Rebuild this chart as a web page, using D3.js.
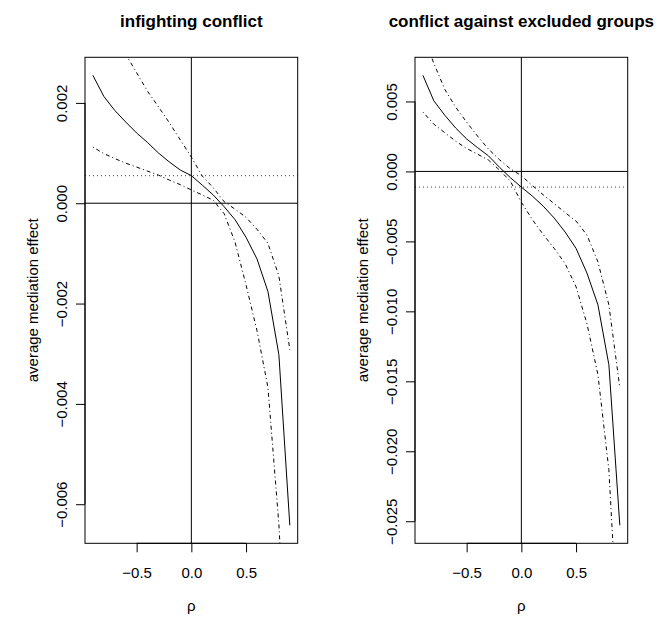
<!DOCTYPE html>
<html>
<head>
<meta charset="utf-8">
<script src="https://cdnjs.cloudflare.com/ajax/libs/d3/7.8.5/d3.min.js"></script>
<style>
  body { margin: 0; background: #fff; }
  svg { display: block; font-family: "Liberation Sans", Arial, Helvetica, sans-serif; }
</style>
</head>
<body>
<svg width="667" height="622"></svg>
<script>
// sensitivity parameter
var rho = [-0.9, -0.8, -0.7, -0.6, -0.5, -0.4, -0.3, -0.2, -0.1, 0,
           0.1, 0.2, 0.3, 0.4, 0.5, 0.6, 0.7, 0.8, 0.9];

// infighting conflict
var infightEst   = [0.00255, 0.00213, 0.00185, 0.00162, 0.00140, 0.00121, 0.00100, 0.00082, 0.00066, 0.00055,
                    0.00036, 0.000165, -0.00007, -0.00033, -0.00068, -0.00111, -0.00176, -0.00302, -0.00642];
var infightUpper = [0.0047, 0.00395, 0.0034, 0.00297, 0.0026, 0.00223, 0.00192, 0.0016, 0.00126, 0.00092,
                    0.00054, 0.00031, 0.00003, -0.00012, -0.00028, -0.00052, -0.0008, -0.00145, -0.00292];
var infightLower = [0.00112, 0.00099, 0.00089, 0.0008, 0.00072, 0.00064, 0.00056, 0.00046, 0.00037, 0.000265,
                    0.000165, 0.00006, -0.00021, -0.00078, -0.00163, -0.00254, -0.00367, -0.0064, -0.0105];
var infightAcme = 0.000549;

// conflict against excluded groups
var exclEst   = [0.00687, 0.00505, 0.00402, 0.0031, 0.00232, 0.0017, 0.00111, 0.0003, -0.00045, -0.00112,
                 -0.00176, -0.00248, -0.00333, -0.00433, -0.0055, -0.00727, -0.00954, -0.01382, -0.02529];
var exclUpper = [0.0098, 0.00773, 0.00587, 0.00459, 0.00352, 0.00252, 0.00159, 0.00084, 0.00018, -0.0003,
                 -0.00101, -0.00167, -0.0023, -0.00294, -0.00355, -0.00455, -0.00647, -0.00954, -0.01546];
var exclLower = [0.00425, 0.00338, 0.00277, 0.00216, 0.00164, 0.00123, 0.00081, 0.0001, -0.0007, -0.0022,
                 -0.00344, -0.00451, -0.0055, -0.00659, -0.00824, -0.0109, -0.01453, -0.02133, -0.0356];
var exclAcme = -0.00112;

// ticks
var xTicks = [-0.5, 0, 0.5];
var xTickLabels = ["\u22120.5", "0.0", "0.5"];
var infightTicks = [0.002, 0, -0.002, -0.004, -0.006];
var infightTickLabels = ["0.002", "0.000", "\u22120.002", "\u22120.004", "\u22120.006"];
var exclTicks = [0.005, 0, -0.005, -0.010, -0.015, -0.020, -0.025];
var exclTickLabels = ["0.005", "0.000", "\u22120.005", "\u22120.010", "\u22120.015", "\u22120.020", "\u22120.025"];

var titles = ["infighting conflict", "conflict against excluded groups"];

(function() {
  var svg = d3.select("svg");

  var panels = [
    {left: 85, right: 297.7, est: infightEst, upper: infightUpper, lower: infightLower, acme: infightAcme,
     ticks: infightTicks, labels: infightTickLabels, title: titles[0]},
    {left: 415, right: 627.7, est: exclEst, upper: exclUpper, lower: exclLower, acme: exclAcme,
     ticks: exclTicks, labels: exclTickLabels, title: titles[1]}
  ];
  var plotTop = 57.3, plotBottom = 543.3;

  // R style 4% padding
  function pad(ext) {
    var d = (ext[1] - ext[0]) * 0.04;
    return [ext[0] - d, ext[1] + d];
  }

  panels.forEach(function(p, i) {
    var x = d3.scaleLinear().domain(pad(d3.extent(rho))).range([p.left, p.right]),
        y = d3.scaleLinear().domain(pad(d3.extent(p.est))).range([plotBottom, plotTop]);

    var clipId = "clip" + i;
    svg.append("clipPath").attr("id", clipId)
      .append("rect")
      .attr("x", p.left).attr("y", plotTop)
      .attr("width", p.right - p.left).attr("height", plotBottom - plotTop);

    var g = svg.append("g").attr("clip-path", "url(#" + clipId + ")");

    var line = function(vals) {
      return d3.line()
        .x(function(d, k) { return x(rho[k]); })
        .y(function(d) { return y(d); })(vals);
    };

    // reference lines
    g.append("line")
      .attr("x1", p.left).attr("x2", p.right)
      .attr("y1", y(0)).attr("y2", y(0))
      .attr("stroke", "#000").attr("stroke-width", 1);
    g.append("line")
      .attr("x1", x(0)).attr("x2", x(0))
      .attr("y1", plotTop).attr("y2", plotBottom)
      .attr("stroke", "#000").attr("stroke-width", 1);
    g.append("line")
      .attr("x1", p.left).attr("x2", p.right)
      .attr("y1", y(p.acme)).attr("y2", y(p.acme))
      .attr("stroke", "#444").attr("stroke-width", 1)
      .attr("stroke-dasharray", "1,3");

    g.append("path").attr("d", line(p.est))
      .attr("fill", "none").attr("stroke", "#000").attr("stroke-width", 1);
    [p.upper, p.lower].forEach(function(ci) {
      g.append("path").attr("d", line(ci))
        .attr("fill", "none").attr("stroke", "#000").attr("stroke-width", 1)
        .attr("stroke-dasharray", "1,3,4,3");
    });

    // box
    svg.append("rect")
      .attr("x", p.left).attr("y", plotTop)
      .attr("width", p.right - p.left).attr("height", plotBottom - plotTop)
      .attr("fill", "none").attr("stroke", "#000").attr("stroke-width", 1);

    // x axis
    var xa = svg.append("g")
      .attr("transform", "translate(0," + plotBottom + ")")
      .call(d3.axisBottom(x).tickValues(xTicks).tickSize(9).tickSizeOuter(0)
        .tickFormat(function(d, k) { return xTickLabels[k]; }));
    xa.select(".domain").remove();
    xa.append("line")
      .attr("x1", x(xTicks[0])).attr("x2", x(xTicks[xTicks.length - 1]))
      .attr("stroke", "#000");
    xa.selectAll("text")
      .attr("y", 35).attr("dy", 0)
      .attr("fill", "#000").style("font-size", "15px");

    // y axis
    var ya = svg.append("g")
      .attr("transform", "translate(" + p.left + ",0)")
      .call(d3.axisLeft(y).tickValues(p.ticks).tickSize(9).tickSizeOuter(0)
        .tickFormat(function(d, k) { return p.labels[k]; }));
    ya.select(".domain").remove();
    ya.append("line")
      .attr("y1", y(p.ticks[0])).attr("y2", y(p.ticks[p.ticks.length - 1]))
      .attr("stroke", "#000");
    ya.selectAll("text")
      .attr("transform", "rotate(-90)")
      .attr("x", 0).attr("y", -18).attr("dy", 0)
      .attr("text-anchor", "middle")
      .attr("fill", "#000").style("font-size", "15px");

    // axis titles
    svg.append("text")
      .attr("x", (p.left + p.right) / 2).attr("y", 611)
      .attr("text-anchor", "middle").style("font-size", "15px")
      .text("\u03c1");
    svg.append("text")
      .attr("transform", "translate(" + (p.left - 47) + "," + ((plotTop + plotBottom) / 2) + ") rotate(-90)")
      .attr("text-anchor", "middle").style("font-size", "15px")
      .text("average mediation effect");

    // title
    svg.append("text")
      .attr("x", (p.left + p.right) / 2).attr("y", 27)
      .attr("text-anchor", "middle")
      .style("font-size", "17px").style("font-weight", "bold")
      .text(p.title);
  });
})();
</script>
</body>
</html>
